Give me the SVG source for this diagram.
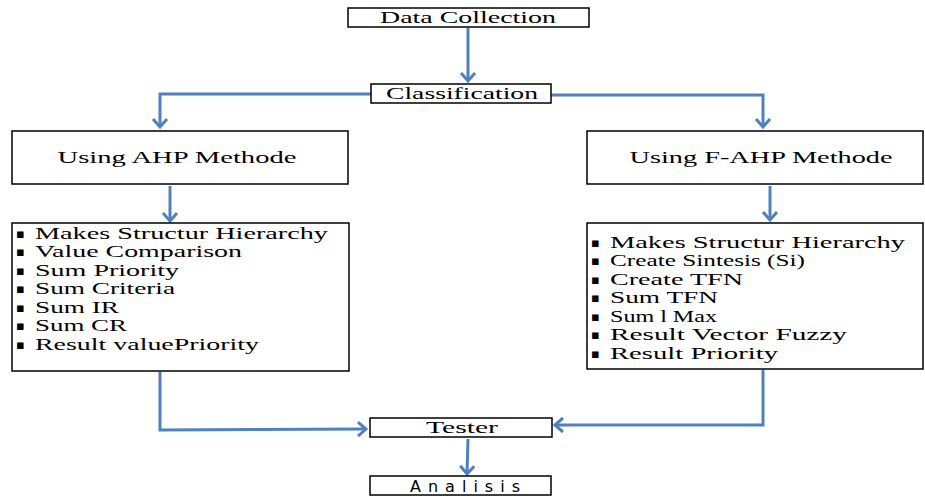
<svg xmlns="http://www.w3.org/2000/svg" width="925" height="497" viewBox="0 0 925 497">
<style>
.box{fill:#fff;stroke:#000;stroke-width:1.5}
.t{font-family:"Liberation Serif","Times New Roman",serif;font-size:17px;fill:#000}
.b{font-family:"DejaVu Sans","Liberation Sans",sans-serif;font-size:13px;fill:#000}
.c{text-anchor:middle}
.con{fill:none;stroke:#4f81bd;stroke-width:3}
</style>
<defs>
<marker id="ah" markerUnits="userSpaceOnUse" markerWidth="20" markerHeight="20" refX="11" refY="10" orient="auto" viewBox="0 0 20 20">
<path d="M3,3 L11,10 L3,17" fill="none" stroke="#4f81bd" stroke-width="3"/>
</marker>
</defs>
<g id="connectors">
<path class="con" d="M468,28 L468,81" marker-end="url(#ah)"/>
<path class="con" d="M371,94 L160,94 L160,127" marker-end="url(#ah)"/>
<path class="con" d="M551,95 L763,95 L763,127" marker-end="url(#ah)"/>
<path class="con" d="M170,186 L170,221" marker-end="url(#ah)"/>
<path class="con" d="M770,186 L770,220" marker-end="url(#ah)"/>
<path class="con" d="M160,372 L160,430 L366,429" marker-end="url(#ah)"/>
<path class="con" d="M763,370 L763,425 L555,425" marker-end="url(#ah)"/>
<path class="con" d="M468,439 L467,474" marker-end="url(#ah)"/>
</g>
<g id="data-collection">
<rect class="box" x="348" y="8" width="241" height="19"/>
<text class="t c" x="468" y="23" textLength="176" lengthAdjust="spacingAndGlyphs">Data Collection</text>
</g>
<g id="classification">
<rect class="box" x="371" y="84" width="180" height="19"/>
<text class="t c" x="462" y="99" textLength="152" lengthAdjust="spacingAndGlyphs">Classification</text>
</g>
<g id="ahp">
<rect class="box" x="12" y="131" width="336" height="53"/>
<text class="t c" x="177" y="163" textLength="239" lengthAdjust="spacingAndGlyphs">Using AHP Methode</text>
</g>
<g id="fahp">
<rect class="box" x="587" y="131" width="336" height="53"/>
<text class="t c" x="761" y="163" textLength="263" lengthAdjust="spacingAndGlyphs">Using F-AHP Methode</text>
</g>
<g id="ahp-steps">
<rect class="box" x="12" y="223" width="337" height="148"/>
<g class="b">
<text x="16" y="238">▪</text><text x="16" y="256">▪</text><text x="16" y="275">▪</text><text x="16" y="293">▪</text><text x="16" y="312">▪</text><text x="16" y="330">▪</text><text x="16" y="349">▪</text>
</g>
<g class="t">
<text x="35" y="239" textLength="293" lengthAdjust="spacingAndGlyphs">Makes Structur Hierarchy</text>
<text x="35" y="257" textLength="207" lengthAdjust="spacingAndGlyphs">Value Comparison</text>
<text x="35" y="276" textLength="144" lengthAdjust="spacingAndGlyphs">Sum Priority</text>
<text x="35" y="294" textLength="140" lengthAdjust="spacingAndGlyphs">Sum Criteria</text>
<text x="35" y="313" textLength="84" lengthAdjust="spacingAndGlyphs">Sum IR</text>
<text x="35" y="331" textLength="92" lengthAdjust="spacingAndGlyphs">Sum CR</text>
<text x="35" y="350" textLength="224" lengthAdjust="spacingAndGlyphs">Result valuePriority</text>
</g>
</g>
<g id="fahp-steps">
<rect class="box" x="587" y="223" width="336" height="146"/>
<g class="b">
<text x="591" y="247">▪</text><text x="591" y="265">▪</text><text x="591" y="284">▪</text><text x="591" y="302">▪</text><text x="591" y="321">▪</text><text x="591" y="339">▪</text><text x="591" y="358">▪</text>
</g>
<g class="t">
<text x="610" y="248" textLength="295" lengthAdjust="spacingAndGlyphs">Makes Structur Hierarchy</text>
<text x="610" y="266" textLength="195" lengthAdjust="spacingAndGlyphs">Create Sintesis (Si)</text>
<text x="610" y="285" textLength="133" lengthAdjust="spacingAndGlyphs">Create TFN</text>
<text x="610" y="303" textLength="108" lengthAdjust="spacingAndGlyphs">Sum TFN</text>
<text x="610" y="322" textLength="107" lengthAdjust="spacingAndGlyphs">Sum l Max</text>
<text x="610" y="340" textLength="237" lengthAdjust="spacingAndGlyphs">Result Vector Fuzzy</text>
<text x="610" y="359" textLength="168" lengthAdjust="spacingAndGlyphs">Result Priority</text>
</g>
</g>
<g id="tester">
<rect class="box" x="370" y="418" width="182" height="19"/>
<text class="t c" x="462" y="433" textLength="72" lengthAdjust="spacingAndGlyphs">Tester</text>
</g>
<g id="analisis">
<rect class="box" x="370" y="476" width="181" height="19"/>
<text class="c" x="465" y="492" font-family="'DejaVu Sans','Liberation Sans',sans-serif" font-size="16" textLength="110" lengthAdjust="spacing">Analisis</text>
</g>
</svg>
